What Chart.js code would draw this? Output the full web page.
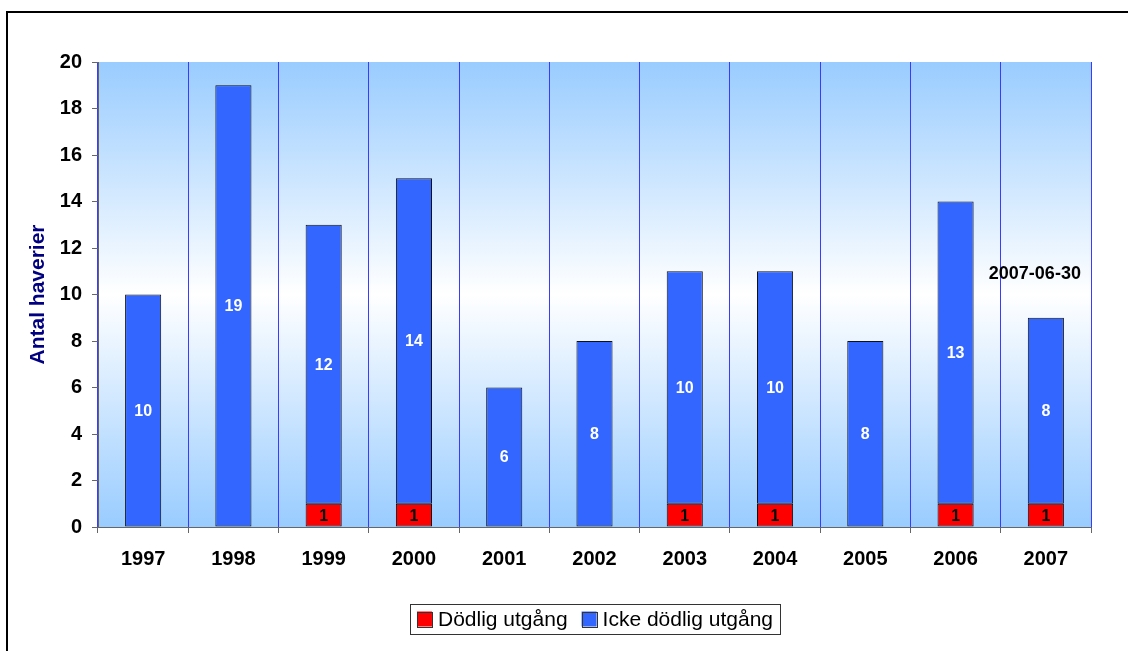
<!DOCTYPE html>
<html>
<head>
<meta charset="utf-8">
<script src="https://cdn.jsdelivr.net/npm/chart.js@4"></script>
<style>
    html, body { margin: 0; padding: 0; background: #fff; overflow: hidden; }
    #wrap { position: relative; width: 1128px; height: 651px; }
    #frame {
        position: absolute; left: 6px; top: 11px; width: 1200px; height: 700px;
        border-left: 2px solid #000; border-top: 2px solid #000;
    }
    canvas { position: absolute; left: 0; top: 0; }
</style>
</head>
<body>
<div id="wrap">
    <div id="frame"></div>
    <canvas id="chart" width="1128" height="651"></canvas>
</div>
<script>
// Data
const years = ['1997', '1998', '1999', '2000', '2001', '2002', '2003', '2004', '2005', '2006', '2007'];
const fatal = [0, 0, 1, 1, 0, 0, 1, 1, 0, 1, 1];
const nonFatal = [10, 19, 12, 14, 6, 8, 10, 10, 8, 13, 8];
const yTicks = [0, 2, 4, 6, 8, 10, 12, 14, 16, 18, 20];
const note = '2007-06-30';

const FONT = 'Arial, "Liberation Sans", sans-serif';

// Gradient behind the plot area
const plotBackground = {
    id: 'plotBackground',
    beforeDraw(chart) {
        const { ctx, chartArea: a } = chart;
        const g = ctx.createLinearGradient(0, a.top, 0, a.bottom);
        g.addColorStop(0, '#99ccff');
        g.addColorStop(0.5, '#ffffff');
        g.addColorStop(1, '#99ccff');
        ctx.save();
        ctx.fillStyle = g;
        ctx.fillRect(a.left, a.top, a.right - a.left, a.bottom - a.top);
        ctx.restore();
    }
};

// Value labels inside the bars, plus the date note
const barLabels = {
    id: 'barLabels',
    afterDatasetsDraw(chart) {
        const { ctx } = chart;
        ctx.save();
        ctx.font = 'bold 16px ' + FONT;
        ctx.textAlign = 'center';
        ctx.textBaseline = 'middle';
        chart.data.datasets.forEach((ds, i) => {
            const meta = chart.getDatasetMeta(i);
            meta.data.forEach((bar, j) => {
                const v = ds.data[j];
                if (!v) return;
                ctx.fillStyle = ds.labelColor;
                ctx.fillText(String(v), bar.x, (bar.y + bar.base) / 2 + 1);
            });
        });
        const x = chart.scales.x.getPixelForValue(years.length - 1) - 11;
        const y = chart.scales.y.getPixelForValue(10.9);
        ctx.fillStyle = '#000';
        ctx.font = 'bold 18px ' + FONT;
        ctx.fillText(note, x, y);
        ctx.restore();
    }
};

// Boxed legend under the chart
const boxLegend = {
    id: 'boxLegend',
    afterDraw(chart) {
        const { ctx } = chart;
        const sets = chart.data.datasets;
        ctx.save();
        ctx.font = '21px ' + FONT;
        const sq = 15, gap = 6, itemGap = 14, pad = 7;
        const widths = sets.map(ds => sq + gap + ctx.measureText(ds.label).width);
        const total = widths.reduce((s, w) => s + w, 0) + itemGap * (sets.length - 1) + pad * 2;
        const cx = 595, top = 604, h = 30;
        let x = cx - total / 2;
        ctx.fillStyle = '#fff';
        ctx.fillRect(x, top, total, h);
        ctx.strokeStyle = '#333';
        ctx.lineWidth = 1;
        ctx.strokeRect(Math.round(x) + 0.5, top + 0.5, Math.round(total), h);
        x += pad;
        const mid = top + h / 2;
        sets.forEach((ds, i) => {
            ctx.fillStyle = ds.backgroundColor;
            ctx.fillRect(x, mid - sq / 2, sq, sq);
            ctx.strokeRect(Math.round(x) + 0.5, Math.round(mid - sq / 2) + 0.5, sq, sq);
            ctx.fillStyle = '#000';
            ctx.textBaseline = 'middle';
            ctx.fillText(ds.label, x + sq + gap, mid + 1);
            x += widths[i] + itemGap;
        });
        ctx.restore();
    }
};

new Chart(document.getElementById('chart'), {
    type: 'bar',
    data: {
        labels: years,
        datasets: [
            {
                label: 'Dödlig utgång',
                data: fatal,
                backgroundColor: '#ff0000',
                borderColor: '#111',
                borderWidth: 1,
                borderSkipped: false,
                labelColor: '#000'
            },
            {
                label: 'Icke dödlig utgång',
                data: nonFatal,
                backgroundColor: '#3366ff',
                borderColor: '#111',
                borderWidth: 1,
                borderSkipped: false,
                labelColor: '#fff'
            }
        ]
    },
    options: {
        responsive: false,
        animation: false,
        devicePixelRatio: 1,
        barPercentage: 0.4,
        categoryPercentage: 1,
        layout: { padding: { left: 24, right: 37, top: 62, bottom: 0 } },
        plugins: {
            legend: { display: false },
            tooltip: { enabled: false }
        },
        scales: {
            x: {
                stacked: true,
                offset: true,
                grid: {
                    offset: true,
                    color: '#3b3bff',
                    tickColor: '#666',
                    tickLength: 6,
                    lineWidth: 1
                },
                border: { color: '#666' },
                ticks: {
                    color: '#000',
                    padding: 14,
                    font: { family: FONT, size: 20, weight: 'bold' }
                },
                afterFit(s) { s.height = 124; }
            },
            y: {
                stacked: true,
                min: 0,
                max: 20,
                afterBuildTicks(s) { s.ticks = yTicks.map(v => ({ value: v })); },
                grid: {
                    drawOnChartArea: false,
                    tickColor: '#666',
                    tickLength: 6
                },
                border: { color: '#666' },
                ticks: {
                    color: '#000',
                    padding: 10,
                    font: { family: FONT, size: 20, weight: 'bold' }
                },
                title: {
                    display: true,
                    text: 'Antal haverier',
                    color: '#000080',
                    padding: { top: 2, bottom: 2 },
                    font: { family: FONT, size: 21, weight: 'bold' }
                },
                afterFit(s) { s.width = 74; }
            }
        }
    },
    plugins: [plotBackground, barLabels, boxLegend]
});
</script>
</body>
</html>
